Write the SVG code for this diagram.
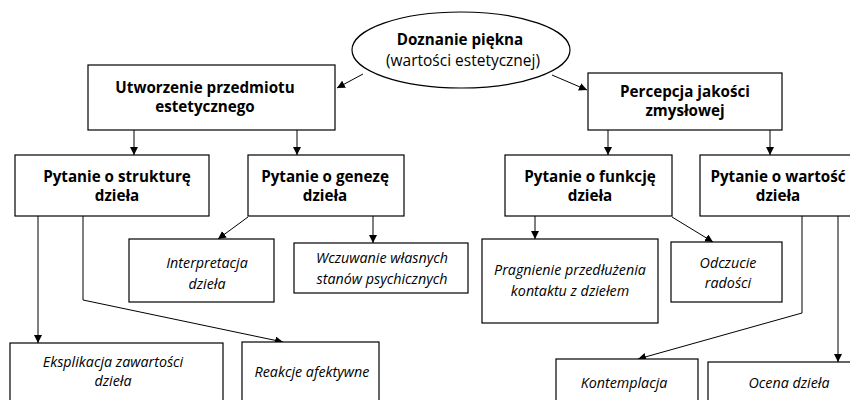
<svg xmlns="http://www.w3.org/2000/svg" width="850" height="400" viewBox="0 0 850 400">
<style>
.box{fill:#fff;stroke:#000;stroke-width:1.2}
.b{font-family:"Open Sans","DejaVu Sans",sans-serif;font-weight:bold;font-size:15.2px;text-anchor:middle;fill:#000}
.r{font-family:"Open Sans","DejaVu Sans",sans-serif;font-size:15.5px;text-anchor:middle;fill:#000}
.i{font-family:"Open Sans","DejaVu Sans",sans-serif;font-style:italic;font-size:14.3px;text-anchor:middle;fill:#000}
.c{fill:none;stroke:#000;stroke-width:1}
</style>
<defs>
<marker id="ah" markerWidth="8" markerHeight="8" refX="8" refY="4" orient="auto" markerUnits="userSpaceOnUse" viewBox="0 0 8 8">
<path d="M0,0 L8,4 L0,8 Z" fill="#000"/>
</marker>
</defs>
<rect width="850" height="400" fill="#fff"/>
<g id="connectors">
<path class="c" d="M363,74 L337,88" marker-end="url(#ah)"/>
<path class="c" d="M552,75 L587,90" marker-end="url(#ah)"/>
<path class="c" d="M134,130 V155" marker-end="url(#ah)"/>
<path class="c" d="M297,130 V155" marker-end="url(#ah)"/>
<path class="c" d="M608,130 V155" marker-end="url(#ah)"/>
<path class="c" d="M770,130 V155" marker-end="url(#ah)"/>
<path class="c" d="M38,216 V343" marker-end="url(#ah)"/>
<path class="c" d="M83,216 V300 L283,342" marker-end="url(#ah)"/>
<path class="c" d="M248,217 L218,239" marker-end="url(#ah)"/>
<path class="c" d="M373,216 V243" marker-end="url(#ah)"/>
<path class="c" d="M535,216 V239" marker-end="url(#ah)"/>
<path class="c" d="M672,217 L713,242" marker-end="url(#ah)"/>
<path class="c" d="M802,216 V313 L638,359" marker-end="url(#ah)"/>
<path class="c" d="M838,216 V362" marker-end="url(#ah)"/>
</g>
<g id="doznanie">
<ellipse class="box" cx="461" cy="50" rx="109" ry="38"/>
<text class="b" x="460" y="45">Doznanie piękna</text>
<text class="r" x="463" y="66">(wartości estetycznej)</text>
</g>
<g id="utworzenie">
<rect class="box" x="88" y="65" width="247" height="65"/>
<text class="b" x="205" y="93">Utworzenie przedmiotu</text>
<text class="b" x="205" y="112">estetycznego</text>
</g>
<g id="percepcja">
<rect class="box" x="588" y="73" width="194" height="57"/>
<text class="b" x="685" y="97">Percepcja jakości</text>
<text class="b" x="685" y="116">zmysłowej</text>
</g>
<g id="struktura">
<rect class="box" x="15" y="155" width="194" height="61"/>
<text class="b" x="117" y="182">Pytanie o strukturę</text>
<text class="b" x="117" y="201">dzieła</text>
</g>
<g id="geneza">
<rect class="box" x="248" y="155" width="156" height="61"/>
<text class="b" x="325" y="182">Pytanie o genezę</text>
<text class="b" x="325" y="201">dzieła</text>
</g>
<g id="funkcja">
<rect class="box" x="505" y="155" width="167" height="61"/>
<text class="b" x="590" y="182">Pytanie o funkcję</text>
<text class="b" x="590" y="201">dzieła</text>
</g>
<g id="wartosc">
<rect class="box" x="700" y="155" width="160" height="61"/>
<text class="b" x="778" y="182">Pytanie o wartość</text>
<text class="b" x="778" y="201">dzieła</text>
</g>
<g id="interpretacja">
<rect class="box" x="129" y="239" width="145" height="63"/>
<text class="i" x="207" y="268">Interpretacja</text>
<text class="i" x="207" y="289">dzieła</text>
</g>
<g id="wczuwanie">
<rect class="box" x="294" y="243" width="174" height="50"/>
<text class="i" x="382" y="263">Wczuwanie własnych</text>
<text class="i" x="382" y="284">stanów psychicznych</text>
</g>
<g id="pragnienie">
<rect class="box" x="482" y="239" width="176" height="84"/>
<text class="i" x="570" y="275">Pragnienie przedłużenia</text>
<text class="i" x="570" y="296">kontaktu z dziełem</text>
</g>
<g id="odczucie">
<rect class="box" x="671" y="242" width="111" height="60"/>
<text class="i" x="728" y="268">Odczucie</text>
<text class="i" x="728" y="288">radości</text>
</g>
<g id="eksplikacja">
<rect class="box" x="10" y="343" width="213" height="70"/>
<text class="i" x="113" y="367">Eksplikacja zawartości</text>
<text class="i" x="113" y="386">dzieła</text>
</g>
<g id="reakcje">
<rect class="box" x="242" y="342" width="137" height="70"/>
<text class="i" x="312" y="377">Reakcje afektywne</text>
</g>
<g id="kontemplacja">
<rect class="box" x="556" y="359" width="142" height="60"/>
<text class="i" x="624" y="388">Kontemplacja</text>
</g>
<g id="ocena">
<rect class="box" x="708" y="362" width="150" height="60"/>
<text class="i" x="789" y="388">Ocena dzieła</text>
</g>
</svg>
